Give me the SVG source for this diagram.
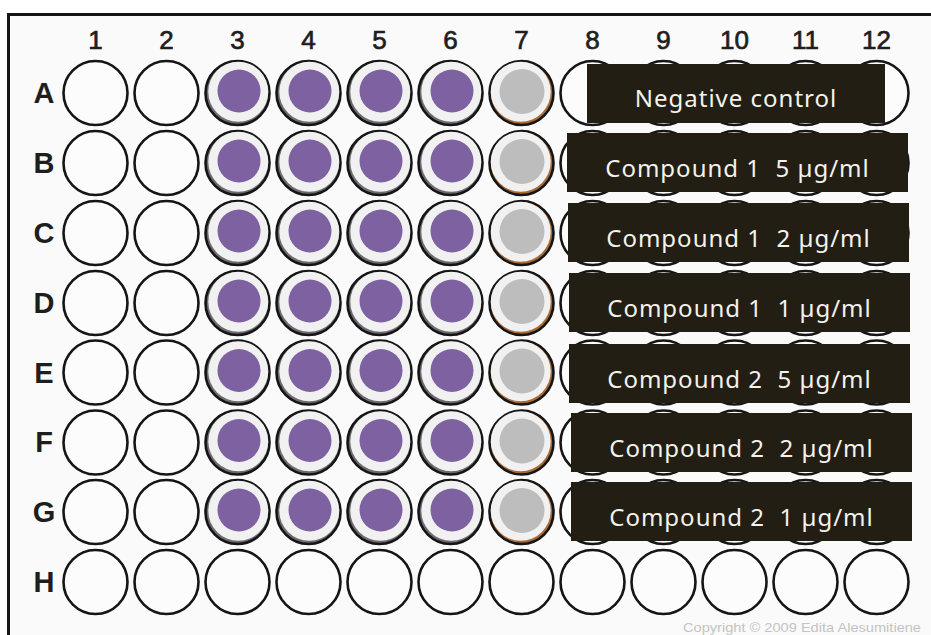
<svg xmlns="http://www.w3.org/2000/svg" xmlns:xlink="http://www.w3.org/1999/xlink" width="931" height="635" viewBox="0 0 931 635">
<style>
.col{font-family:"Liberation Sans",Arial,sans-serif;font-size:26px;fill:#1e1e1e;stroke:#1e1e1e;stroke-width:0.7;text-anchor:middle}
.row{font-family:"Liberation Sans",Arial,sans-serif;font-size:29px;font-weight:bold;fill:#1e1e1e;text-anchor:middle}
.box{fill:#221e14}
.lbl{font-family:"Noto Sans","DejaVu Sans",sans-serif;font-size:24px;fill:#f4f2ec;text-anchor:middle;letter-spacing:1px}
.copy{font-family:"Liberation Sans",Arial,sans-serif;font-size:13px;fill:#c4c4c4}
</style>
<defs>
<g id="we"><circle r="32" fill="#fcfcfc" stroke="#151515" stroke-width="2.6"/></g>
<g id="wp"><circle r="32" fill="#6e6a70" stroke="#151515" stroke-width="2.6"/><circle cx="0.8" cy="-1.2" r="30" fill="#f1f1f1"/><circle cx="1.5" cy="-2" r="21.5" fill="#7d61a1"/></g>
<g id="wg"><circle r="32" fill="#a86a35" stroke="#151515" stroke-width="2.6"/><circle cx="-0.8" cy="-1.3" r="30" fill="#f1f1f1"/><circle cx="0.5" cy="-1.5" r="22.5" fill="#bdbdbd"/></g>
</defs>
<rect x="0" y="0" width="931" height="635" fill="#ffffff"/>
<rect x="8" y="14" width="923" height="621" fill="#fafafa"/>
<path d="M8.5 635 V14.5 H931" fill="none" stroke="#141414" stroke-width="3"/>
<g id="column-labels">
<text class="col" x="95.5" y="49">1</text><text class="col" x="166.5" y="49">2</text><text class="col" x="237.5" y="49">3</text><text class="col" x="308.5" y="49">4</text><text class="col" x="379.5" y="49">5</text><text class="col" x="450.5" y="49">6</text><text class="col" x="521.5" y="49">7</text><text class="col" x="592.5" y="49">8</text><text class="col" x="663.5" y="49">9</text><text class="col" x="734.5" y="49">10</text><text class="col" x="805.5" y="49">11</text><text class="col" x="876.5" y="49">12</text>
</g>
<g id="row-labels">
<text class="row" x="44" y="103">A</text><text class="row" x="44" y="173">B</text><text class="row" x="44" y="243">C</text><text class="row" x="44" y="313">D</text><text class="row" x="44" y="383">E</text><text class="row" x="44" y="452">F</text><text class="row" x="44" y="522">G</text><text class="row" x="44" y="592">H</text>
</g>
<g id="row-A">
<use xlink:href="#we" x="95.5" y="93"/><use xlink:href="#we" x="166.5" y="93"/><use xlink:href="#wp" x="237.5" y="93"/><use xlink:href="#wp" x="308.5" y="93"/><use xlink:href="#wp" x="379.5" y="93"/><use xlink:href="#wp" x="450.5" y="93"/><use xlink:href="#wg" x="521.5" y="93"/><use xlink:href="#we" x="592.5" y="93"/><use xlink:href="#we" x="663.5" y="93"/><use xlink:href="#we" x="734.5" y="93"/><use xlink:href="#we" x="805.5" y="93"/><use xlink:href="#we" x="876.5" y="93"/>
</g>
<g id="row-B">
<use xlink:href="#we" x="95.5" y="163"/><use xlink:href="#we" x="166.5" y="163"/><use xlink:href="#wp" x="237.5" y="163"/><use xlink:href="#wp" x="308.5" y="163"/><use xlink:href="#wp" x="379.5" y="163"/><use xlink:href="#wp" x="450.5" y="163"/><use xlink:href="#wg" x="521.5" y="163"/><use xlink:href="#we" x="592.5" y="163"/><use xlink:href="#we" x="663.5" y="163"/><use xlink:href="#we" x="734.5" y="163"/><use xlink:href="#we" x="805.5" y="163"/><use xlink:href="#we" x="876.5" y="163"/>
</g>
<g id="row-C">
<use xlink:href="#we" x="95.5" y="233"/><use xlink:href="#we" x="166.5" y="233"/><use xlink:href="#wp" x="237.5" y="233"/><use xlink:href="#wp" x="308.5" y="233"/><use xlink:href="#wp" x="379.5" y="233"/><use xlink:href="#wp" x="450.5" y="233"/><use xlink:href="#wg" x="521.5" y="233"/><use xlink:href="#we" x="592.5" y="233"/><use xlink:href="#we" x="663.5" y="233"/><use xlink:href="#we" x="734.5" y="233"/><use xlink:href="#we" x="805.5" y="233"/><use xlink:href="#we" x="876.5" y="233"/>
</g>
<g id="row-D">
<use xlink:href="#we" x="95.5" y="303"/><use xlink:href="#we" x="166.5" y="303"/><use xlink:href="#wp" x="237.5" y="303"/><use xlink:href="#wp" x="308.5" y="303"/><use xlink:href="#wp" x="379.5" y="303"/><use xlink:href="#wp" x="450.5" y="303"/><use xlink:href="#wg" x="521.5" y="303"/><use xlink:href="#we" x="592.5" y="303"/><use xlink:href="#we" x="663.5" y="303"/><use xlink:href="#we" x="734.5" y="303"/><use xlink:href="#we" x="805.5" y="303"/><use xlink:href="#we" x="876.5" y="303"/>
</g>
<g id="row-E">
<use xlink:href="#we" x="95.5" y="372.5"/><use xlink:href="#we" x="166.5" y="372.5"/><use xlink:href="#wp" x="237.5" y="372.5"/><use xlink:href="#wp" x="308.5" y="372.5"/><use xlink:href="#wp" x="379.5" y="372.5"/><use xlink:href="#wp" x="450.5" y="372.5"/><use xlink:href="#wg" x="521.5" y="372.5"/><use xlink:href="#we" x="592.5" y="372.5"/><use xlink:href="#we" x="663.5" y="372.5"/><use xlink:href="#we" x="734.5" y="372.5"/><use xlink:href="#we" x="805.5" y="372.5"/><use xlink:href="#we" x="876.5" y="372.5"/>
</g>
<g id="row-F">
<use xlink:href="#we" x="95.5" y="442.5"/><use xlink:href="#we" x="166.5" y="442.5"/><use xlink:href="#wp" x="237.5" y="442.5"/><use xlink:href="#wp" x="308.5" y="442.5"/><use xlink:href="#wp" x="379.5" y="442.5"/><use xlink:href="#wp" x="450.5" y="442.5"/><use xlink:href="#wg" x="521.5" y="442.5"/><use xlink:href="#we" x="592.5" y="442.5"/><use xlink:href="#we" x="663.5" y="442.5"/><use xlink:href="#we" x="734.5" y="442.5"/><use xlink:href="#we" x="805.5" y="442.5"/><use xlink:href="#we" x="876.5" y="442.5"/>
</g>
<g id="row-G">
<use xlink:href="#we" x="95.5" y="512"/><use xlink:href="#we" x="166.5" y="512"/><use xlink:href="#wp" x="237.5" y="512"/><use xlink:href="#wp" x="308.5" y="512"/><use xlink:href="#wp" x="379.5" y="512"/><use xlink:href="#wp" x="450.5" y="512"/><use xlink:href="#wg" x="521.5" y="512"/><use xlink:href="#we" x="592.5" y="512"/><use xlink:href="#we" x="663.5" y="512"/><use xlink:href="#we" x="734.5" y="512"/><use xlink:href="#we" x="805.5" y="512"/><use xlink:href="#we" x="876.5" y="512"/>
</g>
<g id="row-H">
<use xlink:href="#we" x="95.5" y="582"/><use xlink:href="#we" x="166.5" y="582"/><use xlink:href="#we" x="237.5" y="582"/><use xlink:href="#we" x="308.5" y="582"/><use xlink:href="#we" x="379.5" y="582"/><use xlink:href="#we" x="450.5" y="582"/><use xlink:href="#we" x="521.5" y="582"/><use xlink:href="#we" x="592.5" y="582"/><use xlink:href="#we" x="663.5" y="582"/><use xlink:href="#we" x="734.5" y="582"/><use xlink:href="#we" x="805.5" y="582"/><use xlink:href="#we" x="876.5" y="582"/>
</g>
<g id="label-negative">
<rect class="box" x="587" y="64" width="298" height="59"/>
<text class="lbl" x="736" y="107">Negative control</text>
</g>
<g id="label-c1-5">
<rect class="box" x="567" y="133" width="341" height="59"/>
<text class="lbl" x="737.5" y="177" xml:space="preserve">Compound 1  5 µg/ml</text>
</g>
<g id="label-c1-2">
<rect class="box" x="568" y="203" width="341" height="59"/>
<text class="lbl" x="738.5" y="247" xml:space="preserve">Compound 1  2 µg/ml</text>
</g>
<g id="label-c1-1">
<rect class="box" x="569" y="273" width="341" height="59"/>
<text class="lbl" x="739.5" y="317" xml:space="preserve">Compound 1  1 µg/ml</text>
</g>
<g id="label-c2-5">
<rect class="box" x="569" y="344" width="341" height="59"/>
<text class="lbl" x="739.5" y="388" xml:space="preserve">Compound 2  5 µg/ml</text>
</g>
<g id="label-c2-2">
<rect class="box" x="571" y="413" width="341" height="59"/>
<text class="lbl" x="741.5" y="457" xml:space="preserve">Compound 2  2 µg/ml</text>
</g>
<g id="label-c2-1">
<rect class="box" x="571" y="482" width="341" height="59"/>
<text class="lbl" x="741.5" y="526" xml:space="preserve">Compound 2  1 µg/ml</text>
</g>
<text class="copy" x="683" y="632" textLength="238" lengthAdjust="spacingAndGlyphs">Copyright © 2009 Edita Alesumitiene</text>
</svg>
